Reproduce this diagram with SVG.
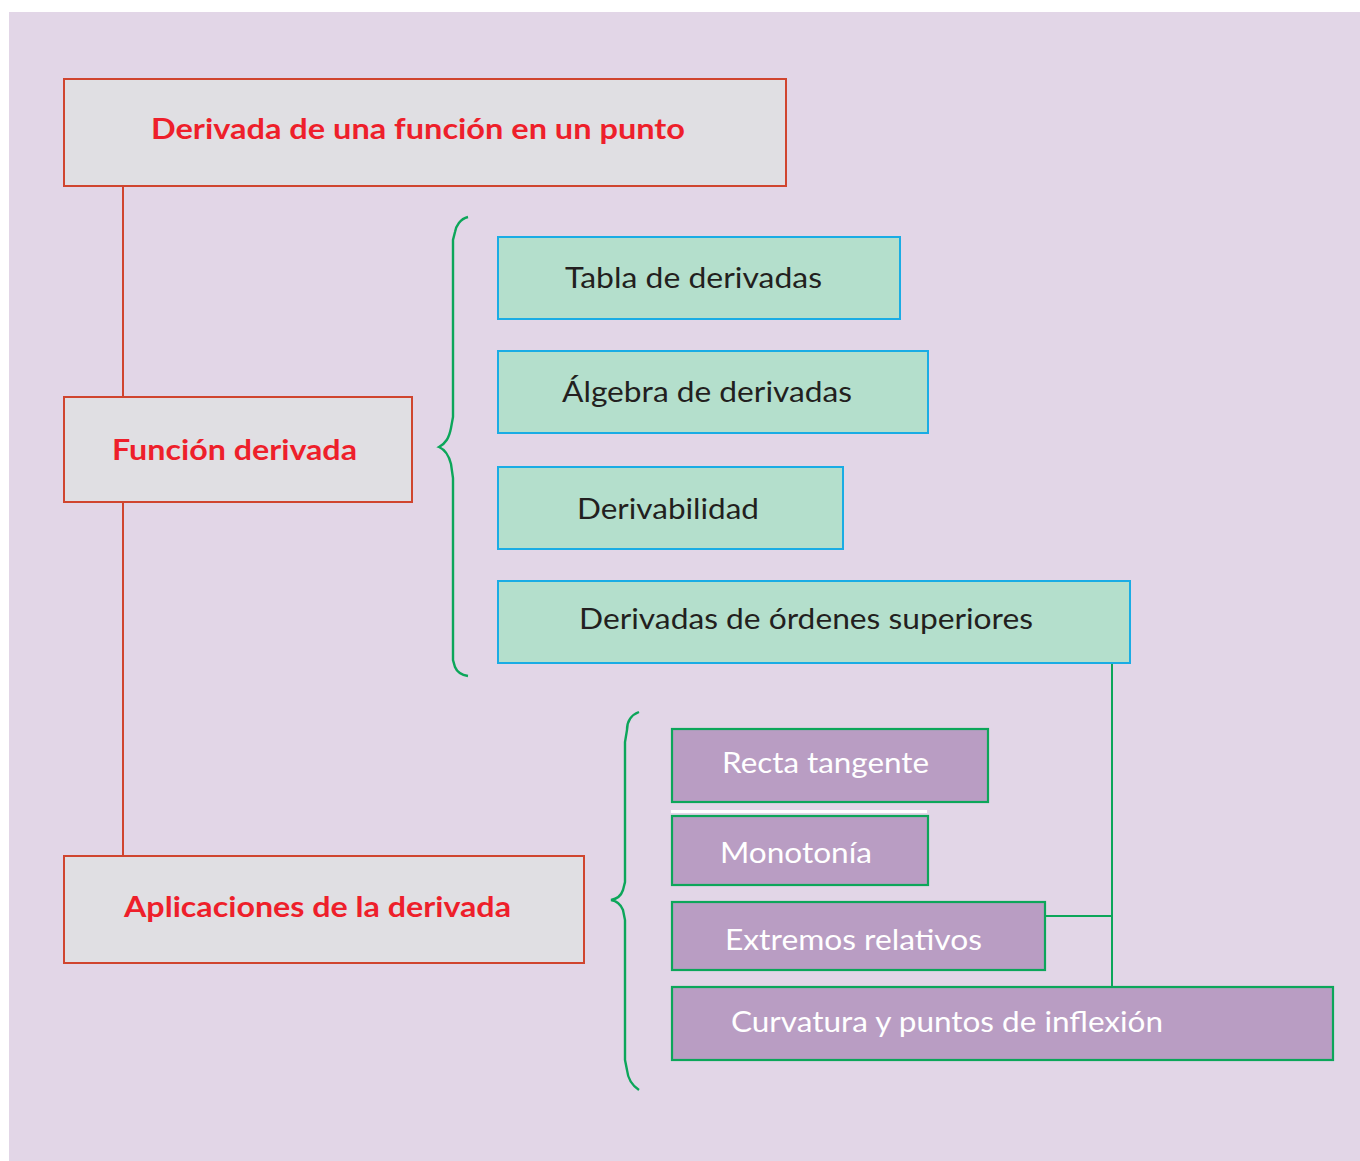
<svg xmlns="http://www.w3.org/2000/svg" width="1360" height="1161" viewBox="0 0 1360 1161">
<style>
.bg{fill:#e2d6e7}
.main rect{fill:#e0dfe3;stroke:#d0452f;stroke-width:2}
.main text{font-family:Lato,"Open Sans","Liberation Sans",sans-serif;font-weight:bold;font-size:28.5px;fill:#ee1f2b}
.sub rect{fill:#b4dfcc;stroke:#1aace4;stroke-width:2}
.sub text{font-family:Lato,"Open Sans","Liberation Sans",sans-serif;font-size:28.5px;fill:#231f20}
.app rect{fill:#b99dc3;stroke:#0ca65a;stroke-width:2.2}
.app text{font-family:Lato,"Open Sans","Liberation Sans",sans-serif;font-size:28.5px;fill:#ffffff}
.red{stroke:#d0452f;stroke-width:2;fill:none}
.grn{stroke:#0ca65a;stroke-width:2;fill:none}
.brace{stroke:#0ca65a;stroke-width:2.4;fill:none}
</style>
<rect class="bg" x="9" y="12" width="1351" height="1149"/>
<g id="connectors">
<line class="red" x1="123" y1="186" x2="123" y2="397"/>
<line class="red" x1="123" y1="502" x2="123" y2="856"/>
<line class="grn" x1="1112" y1="663" x2="1112" y2="987"/>
<line class="grn" x1="1045" y1="916" x2="1112" y2="916"/>
<path class="brace" d="M468,217 C460,219 456,226 455,232 L453,240 L453,417 L451,428 C449,438 446,443 439,447 C446,450 449,456 451,464 L453,478 L453,660 L455,667 C457,672 462,675 468,676"/>
<path class="brace" d="M639,712 C631,715 627,722 627,730 L625,742 L625,882 L623,890 C621,896 617,899 611,900 C617,901 621,905 623,910 L625,920 L625,1060 L627,1070 C628,1080 633,1086 639,1090"/>
</g>
<g id="n-derivada-punto" class="main">
<rect x="64" y="79" width="722" height="107"/>
<text x="151" y="139" textLength="534" lengthAdjust="spacingAndGlyphs">Derivada de una función en un punto</text>
</g>
<g id="n-funcion-derivada" class="main">
<rect x="64" y="397" width="348" height="105"/>
<text x="112" y="460" textLength="245" lengthAdjust="spacingAndGlyphs">Función derivada</text>
</g>
<g id="n-aplicaciones" class="main">
<rect x="64" y="856" width="520" height="107"/>
<text x="124" y="917" textLength="387" lengthAdjust="spacingAndGlyphs">Aplicaciones de la derivada</text>
</g>
<g id="n-tabla" class="sub">
<rect x="498" y="237" width="402" height="82"/>
<text x="565" y="288" textLength="257" lengthAdjust="spacingAndGlyphs">Tabla de derivadas</text>
</g>
<g id="n-algebra" class="sub">
<rect x="498" y="351" width="430" height="82"/>
<text x="562" y="402" textLength="290" lengthAdjust="spacingAndGlyphs">Álgebra de derivadas</text>
</g>
<g id="n-derivabilidad" class="sub">
<rect x="498" y="467" width="345" height="82"/>
<text x="577" y="519" textLength="182" lengthAdjust="spacingAndGlyphs">Derivabilidad</text>
</g>
<g id="n-ordenes" class="sub">
<rect x="498" y="581" width="632" height="82"/>
<text x="579" y="629" textLength="454" lengthAdjust="spacingAndGlyphs">Derivadas de órdenes superiores</text>
</g>
<rect x="671" y="810" width="256" height="3" fill="#ffffff"/>
<g id="n-recta" class="app">
<rect x="672" y="729" width="316" height="73"/>
<text x="722" y="773" textLength="207" lengthAdjust="spacingAndGlyphs">Recta tangente</text>
</g>
<g id="n-monotonia" class="app">
<rect x="672" y="816" width="256" height="69"/>
<text x="720" y="863" textLength="152" lengthAdjust="spacingAndGlyphs">Monotonía</text>
</g>
<g id="n-extremos" class="app">
<rect x="672" y="902" width="373" height="68"/>
<text x="725" y="950" textLength="257" lengthAdjust="spacingAndGlyphs">Extremos relativos</text>
</g>
<g id="n-curvatura" class="app">
<rect x="672" y="987" width="661" height="73"/>
<text x="731" y="1032" textLength="432" lengthAdjust="spacingAndGlyphs">Curvatura y puntos de inflexión</text>
</g>
</svg>
